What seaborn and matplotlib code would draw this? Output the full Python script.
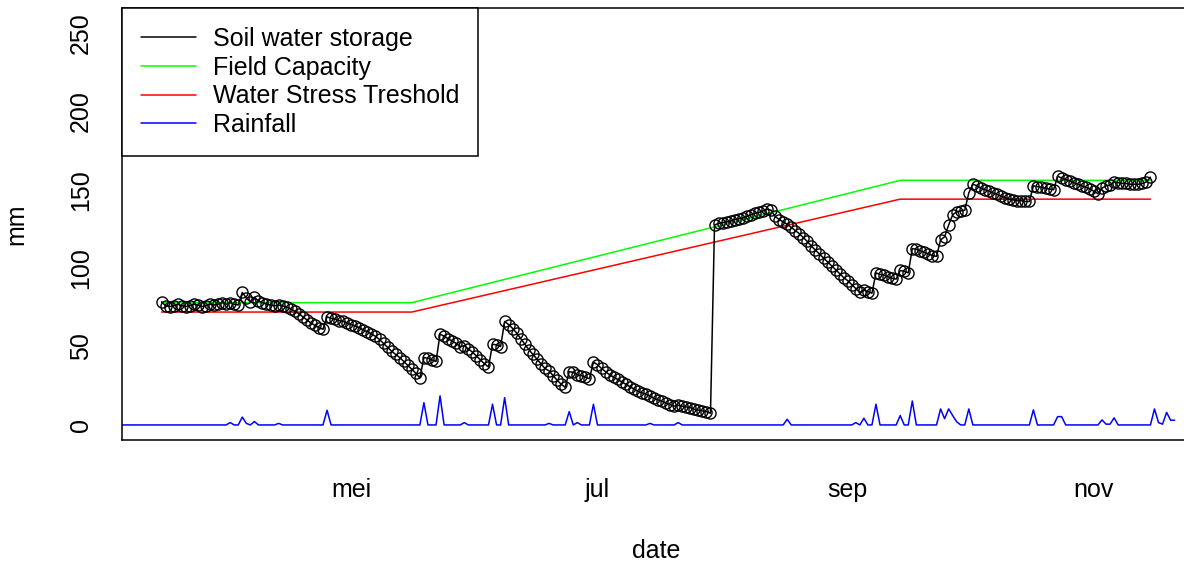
import matplotlib
matplotlib.use("Agg")
import matplotlib.pyplot as plt
from matplotlib.lines import Line2D
import seaborn as sns
import pandas as pd

# ---------------- data ----------------
base_date = "2019-05-01"

# soil water storage, daily from 2019-03-15
sws_start = "2019-03-15"
sws_values = [
    78.5, 76, 75.5, 76, 77, 76, 75.5, 76, 77, 76.5, 75.5, 76, 77, 76.5, 77, 78, 77,
    78, 77, 76.5, 84.5, 81, 78.5, 81.5, 79, 78, 77, 76.5, 76, 76.5, 76, 75,
    74, 72.5, 71, 69, 67, 65, 63.5, 62, 61,
    69, 68, 67.5, 66.5, 66, 65, 64, 63, 62, 60.5, 59.5, 58, 56.5, 54.5, 52, 49.5,
    47, 45, 43, 40.5, 38, 35.5, 33, 30,
    43, 42.5, 41.5, 40.5, 58, 56.5, 55, 53.5, 52, 50, 50.5, 48.5, 46.5, 44, 41.5, 39, 37,
    51.5, 51, 50, 66, 64, 61.5, 58.5, 55, 51.5, 48, 45, 42, 39, 36, 34.5, 31.5, 28.5,
    26, 24, 34, 33.5, 32, 31.5, 30.5, 29.5, 40,
    38.5, 36, 34, 32, 30.5, 29, 27.5, 26, 24.5, 23, 21.5, 20.5, 19.5, 18.5, 17, 16,
    15, 14, 13, 12, 12.5, 12, 11.5, 11, 10, 9.5, 9, 8.5, 7.5,
    127.5, 128.5, 129, 129.5, 130, 131, 131.5, 132, 133, 134, 135, 135.5, 136.5, 137.5, 137,
    133, 131, 129.5, 128, 126, 124, 122, 119.5, 117, 114, 111.5, 109, 106.5, 104, 101.5,
    99, 96.5, 94, 92, 89.5, 87, 84.5, 86, 85, 84,
    97, 96, 95.5, 94.5, 93.5, 93, 98.5, 98, 97, 112.5, 112, 111, 110, 109, 108, 107.5,
    118, 120, 127.5, 134, 136, 136.5, 137,
    148, 153.5, 152.5, 151, 150, 149, 148, 147, 146, 145, 144, 143.5, 143, 143, 142.5, 142.5,
    152.5, 152, 151.5, 151, 150.5, 150, 158.5, 157.5, 156.5, 155.5, 154.5, 153.5, 152.5,
    151.5, 150.5, 149, 147.5, 151, 152.5, 153, 155, 154.5, 154, 154, 153.5, 153.5, 153.5,
    154, 155, 158,
]

# field capacity / water stress threshold (breakpoint dates)
threshold_dates = ["2019-03-15", "2019-05-16", "2019-09-14", "2019-11-15"]
field_capacity = [78, 78, 156, 156]
stress_threshold = [72, 72, 144, 144]

# rainfall: daily series from rain_start to rain_end, nonzero days below
rain_start = "2019-03-05"
rain_end = "2019-11-21"
rain_event_day = [-30, -27, -26, -24, -18, -6, 18, 22, 28, 35, 38, 49, 54, 56, 60,
                  74, 81, 108, 125, 127, 130, 136, 139, 146, 147, 148, 149, 150, 153,
                  169, 175, 176, 186, 187, 188, 189, 199, 200, 201, 202, 203, 204]
rain_event_mm = [1.5, 5, 1, 2.2, 1, 9.4, 14.2, 18.5, 1.5, 13.2, 17.4, 1, 8.5, 1.5, 13.2,
                 1, 1.5, 3.6, 1.5, 4.3, 13.2, 6, 15.3, 10.2, 4, 10.2, 6, 2, 10.2,
                 9.6, 5.3, 5.3, 3.2, 0.5, 0.5, 4.5, 10.2, 1.5, 0.5, 8, 3, 3]

tick_dates = ["2019-05-01", "2019-07-01", "2019-09-01", "2019-11-01"]
tick_labels = ["mei", "jul", "sep", "nov"]
y_ticks = [0, 50, 100, 150, 200, 250]
legend_labels = ["Soil water storage", "Field Capacity", "Water Stress Treshold", "Rainfall"]
legend_colors = ["black", "#00ff00", "#ff0000", "#0000ff"]

# ---------------- tables ----------------
sws_df = pd.DataFrame({"date": pd.date_range(sws_start, periods=len(sws_values), freq="D"),
                       "mm": sws_values})
thr_df = pd.DataFrame({"date": pd.to_datetime(threshold_dates),
                       "fc": field_capacity, "wst": stress_threshold})
rain_dates = pd.date_range(rain_start, rain_end, freq="D")
rain_map = {pd.Timestamp(base_date) + pd.Timedelta(days=d): v
            for d, v in zip(rain_event_day, rain_event_mm)}
rain_df = pd.DataFrame({"date": rain_dates,
                        "mm": [rain_map.get(d, 0.0) for d in rain_dates]})

# ---------------- style ----------------
sns.set_theme(style="white")
plt.rcParams["font.family"] = ["Liberation Sans", "DejaVu Sans"]
FS = 18
LW = 1.1

fig = plt.figure(figsize=(11.84, 5.65), dpi=100)
ax = fig.add_axes([122 / 1184, 125 / 565, 1068 / 1184, 432 / 565])

sns.lineplot(data=rain_df, x="date", y="mm", color=legend_colors[3], lw=LW,
             estimator=None, ax=ax, legend=False)
sns.lineplot(data=thr_df, x="date", y="fc", color=legend_colors[1], lw=LW,
             estimator=None, ax=ax, legend=False)
sns.lineplot(data=thr_df, x="date", y="wst", color=legend_colors[2], lw=LW,
             estimator=None, ax=ax, legend=False)
sns.lineplot(data=sws_df, x="date", y="mm", color="black", lw=LW, estimator=None,
             marker="o", markersize=8, markerfacecolor="none",
             markeredgecolor="black", markeredgewidth=1.0, ax=ax, legend=False)

# R-style 4% padding around the soil water series date range
d0, d1 = sws_df["date"].min(), sws_df["date"].max()
span = d1 - d0
ax.set_xlim(d0 - 0.04 * span, d1 + 0.04 * span)
ax.set_ylim(-9.6, 265.9)

ax.set_xticks(pd.to_datetime(tick_dates))
ax.set_xticklabels(tick_labels)
ax.set_yticks(y_ticks)
ax.set_yticklabels([str(v) for v in y_ticks])

ax.tick_params(axis="both", direction="out", length=9.6, width=LW, color="black",
               labelsize=FS, labelcolor="black")
ax.tick_params(axis="x", pad=17.5)
ax.tick_params(axis="y", pad=11.5, labelrotation=90)
for lbl in ax.get_yticklabels():
    lbl.set_va("center")

for s in ax.spines.values():
    s.set_color("black")
    s.set_linewidth(LW)
    s.set_visible(True)

ax.set_xlabel("date", fontsize=FS, color="black")
ax.set_ylabel("mm", fontsize=FS, color="black")
ax.xaxis.set_label_coords(0.5, -(551 - 440) / 432)
ax.xaxis.label.set_va("center")
ax.yaxis.set_label_coords(-(122 - 16) / 1068, 0.5)
ax.yaxis.label.set_va("center")

handles = [Line2D([], [], color=c, lw=LW) for c in legend_colors]
leg = ax.legend(handles, legend_labels, loc="upper left", bbox_to_anchor=(0, 1),
                borderaxespad=0, fontsize=FS, frameon=True, fancybox=False,
                edgecolor="black", framealpha=1, handlelength=2.2,
                handletextpad=0.7, labelspacing=0.19, borderpad=0.75)
leg.get_frame().set_linewidth(LW)
for t in leg.get_texts():
    t.set_color("black")

fig.savefig("out.png", dpi=100)
